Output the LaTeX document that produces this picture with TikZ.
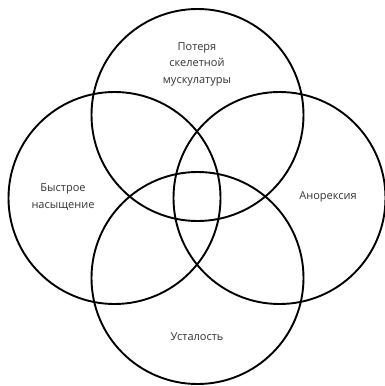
\documentclass[tikz,border=0pt]{standalone}
\usepackage{fontspec}
\setmainfont{Open Sans}
\usepackage{xcolor}
\definecolor{labelgray}{HTML}{333333}

\begin{document}
\begin{tikzpicture}[x=1pt,y=-1pt]
        \useasboundingbox (0,0) rectangle (385,386);
        \tikzset{ring/.style={line width=1.9pt,black},
          lbl/.style={font=\fontsize{11}{16.5}\selectfont,text=labelgray,align=center,inner sep=0pt}}
        \coordinate (ctop) at (197.5,115);
        \coordinate (cleft) at (114.5,198);
        \coordinate (cright) at (279.5,198);
        \coordinate (cbottom) at (197.5,278);
        \foreach \c in {ctop,cleft,cright,cbottom}
          \draw[ring] (\c) circle (106);
        \node[lbl] (muscle) at (197,64) {Потеря\\скелетной\\мускулатуры};
        \node[lbl] (satiety) at (63,197) {Быстрое\\насыщение};
        \node[lbl] (anorexia) at (328,197) {Анорексия};
        \node[lbl] (fatigue) at (197,337) {Усталость};
      \end{tikzpicture}
\end{document}
